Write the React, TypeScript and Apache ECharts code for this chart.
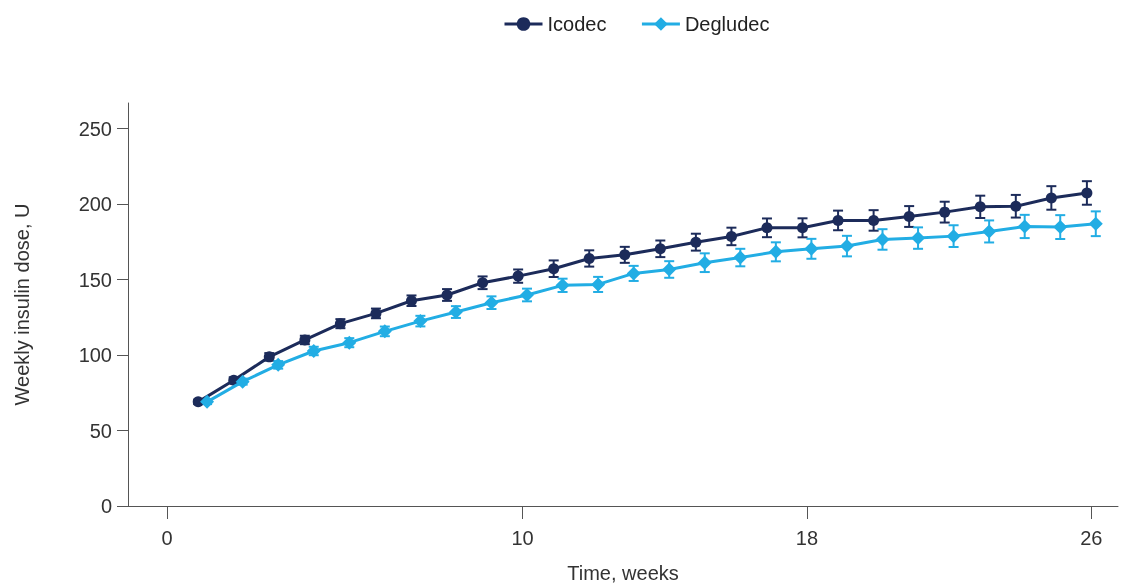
import React, { useEffect, useRef } from "react";
import * as echarts from "echarts";

const weeks = [1,2,3,4,5,6,7,8,9,10,11,12,13,14,15,16,17,18,19,20,21,22,23,24,25,26];
const icodec = [69.0, 83.3, 98.8, 110.0, 120.8, 127.6, 136.0, 139.8, 147.9, 152.3, 157.2, 164.0, 166.4, 170.4, 174.8, 178.6, 184.3, 184.3, 189.2, 189.2, 191.8, 194.7, 198.2, 198.6, 204.1, 207.4];
const icodecErr = [1.5, 2, 2.5, 2.8, 3, 3.2, 3.5, 3.9, 4.2, 4.4, 5.5, 5.4, 5.3, 5.5, 5.6, 5.8, 6.2, 6.3, 6.5, 6.8, 6.9, 6.9, 7.4, 7.5, 7.8, 7.8];
const degludec = [69.0, 82.4, 93.5, 102.7, 108.2, 115.7, 122.5, 128.5, 134.7, 139.8, 146.2, 146.8, 154.1, 156.7, 161.2, 164.6, 168.4, 170.4, 172.2, 176.6, 177.5, 178.8, 181.9, 185.2, 184.8, 187.0];
const degludecErr = [1.5, 2, 2.5, 2.8, 3, 3.2, 3.5, 3.9, 4.2, 4.2, 4.4, 5.0, 5.0, 5.5, 6.2, 5.8, 6.3, 6.6, 6.8, 6.8, 7.1, 7.2, 7.3, 7.7, 7.9, 8.2];
const xTicks = [0, 10, 18, 26];
const yTicks = [0, 50, 100, 150, 200, 250];

const DODGE = 0.125;
const NAVY = "#1c2b5a";
const BLUE = "#22ade4";
const FONT = "Liberation Sans, Arial, sans-serif";

function errSeries(name: string, vals: number[], errs: number[], shift: number, color: string) {
  return {
    type: "custom",
    name,
    z: 1,
    data: weeks.map((w, i) => [w + shift, vals[i], errs[i]]),
    renderItem: (params: any, api: any) => {
      const x = api.value(0);
      const y = api.value(1);
      const e = api.value(2);
      const top = api.coord([x, y + e]);
      const bot = api.coord([x, y - e]);
      const hw = 5;
      const style = { stroke: color, lineWidth: 2 };
      return {
        type: "group",
        children: [
          { type: "line", shape: { x1: top[0], y1: top[1], x2: bot[0], y2: bot[1] }, style },
          { type: "line", shape: { x1: top[0] - hw, y1: top[1], x2: top[0] + hw, y2: top[1] }, style },
          { type: "line", shape: { x1: bot[0] - hw, y1: bot[1], x2: bot[0] + hw, y2: bot[1] }, style },
        ],
      };
    },
  };
}

export default function App() {
  const ref = useRef<HTMLDivElement>(null);
  useEffect(() => {
    if (!ref.current) return;
    const chart = echarts.init(ref.current, null, { renderer: "svg" });
    chart.setOption({
      animation: false,
      textStyle: { fontFamily: FONT },
      legend: {
        data: ["Icodec", "Degludec"],
        left: 498,
        top: 9,
        itemWidth: 38,
        itemHeight: 17,
        itemGap: 34,
        lineStyle: { width: 3 },
        textStyle: { fontSize: 20, color: "#222", fontFamily: FONT },
      },
      grid: { left: 128, right: 4, top: 103, bottom: 81 },
      xAxis: {
        type: "value",
        min: -1.1,
        max: 26.75,
        name: "Time, weeks",
        nameLocation: "middle",
        nameGap: 57,
        nameTextStyle: { fontSize: 20, color: "#333", fontFamily: FONT },
        splitLine: { show: false },
        axisLine: { show: true, onZero: false, lineStyle: { color: "#555", width: 1 } },
        axisTick: { show: true, length: 13, customValues: xTicks, lineStyle: { color: "#555" } },
        axisLabel: { customValues: xTicks, fontSize: 20, color: "#333", margin: 22, fontFamily: FONT },
      },
      yAxis: {
        type: "value",
        min: 0,
        max: 267,
        name: "Weekly insulin dose, U",
        nameLocation: "middle",
        nameGap: 96,
        nameTextStyle: { fontSize: 20, color: "#333", fontFamily: FONT },
        splitLine: { show: false },
        axisLine: { show: true, onZero: false, lineStyle: { color: "#555", width: 1 } },
        axisTick: { show: true, length: 11, customValues: yTicks, lineStyle: { color: "#555" } },
        axisLabel: { customValues: yTicks, fontSize: 20, color: "#333", margin: 16, fontFamily: FONT },
      },
      series: [
        errSeries("Icodec err", icodec, icodecErr, -DODGE, NAVY),
        errSeries("Degludec err", degludec, degludecErr, DODGE, BLUE),
        {
          type: "line",
          name: "Icodec",
          z: 3,
          data: weeks.map((w, i) => [w - DODGE, icodec[i]]),
          symbol: "circle",
          symbolSize: 11,
          lineStyle: { color: NAVY, width: 3 },
          itemStyle: { color: NAVY },
        },
        {
          type: "line",
          name: "Degludec",
          z: 4,
          data: weeks.map((w, i) => [w + DODGE, degludec[i]]),
          symbol: "diamond",
          symbolSize: 14,
          lineStyle: { color: BLUE, width: 3 },
          itemStyle: { color: BLUE },
        },
      ],
    });
    return () => chart.dispose();
  }, []);
  return <div ref={ref} style={{ position: "fixed", left: 0, top: 0, width: 1122, height: 588 }} />;
}
